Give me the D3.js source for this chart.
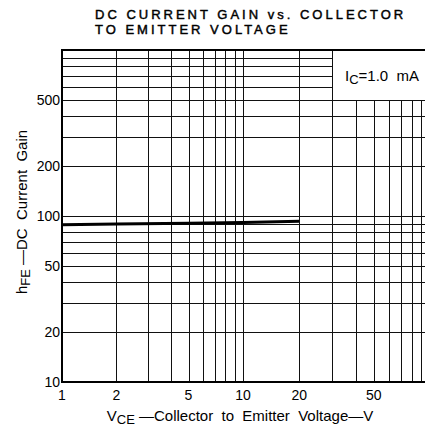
<!DOCTYPE html>
<html lang="en">
<head>
  <meta charset="UTF-8">
  <script src="https://d3js.org/d3.v7.min.js"></script>
  <title>DC Current Gain vs. Collector to Emitter Voltage</title>
  <style>
    body { margin: 0; background: white; }
    svg { display: block; font-family: "Liberation Sans", Arial, sans-serif; }
    .title { font-size: 13px; letter-spacing: 3px; stroke: black; stroke-width: 0.45px; }
    .tick-label { font-size: 14px; }
    .axis-label { font-size: 15px; white-space: pre; }
    .grid line { stroke: #111; stroke-width: 1; shape-rendering: crispEdges; }
  </style>
</head>
<body>
<div id="chart"></div>
<script>
  // data
  const vce = [1, 2, 5, 10, 20];
  const hfe = [88.5, 89.5, 90.5, 91.5, 93];

  const xTicks = [1, 2, 5, 10, 20, 50];
  const yTicks = [10, 20, 50, 100, 200, 500];
  const xGrid = [1, 2, 3, 4, 5, 6, 7, 8, 9, 10, 20, 30, 40, 50, 60, 70, 80, 90];
  const yGrid = [10, 20, 30, 40, 50, 60, 70, 80, 90, 100, 200, 300, 400, 500, 600, 700, 800, 900, 1000];

  const width = 425, height = 434;

  const svg = d3.select("#chart")
    .append("svg")
    .attr("width", width)
    .attr("height", height);

  const x = d3.scaleLog().domain([1, 10, 100]).range([62, 243, 430]);
  const y = d3.scaleLog().domain([10, 1000]).range([382, 50]);

  const px = v => Math.round(x(v)) + 0.5;
  const py = v => Math.round(y(v)) + 0.5;

  const grid = svg.append("g").attr("class", "grid");

  grid.selectAll(".v")
    .data(xGrid)
    .enter().append("line")
    .attr("x1", px).attr("x2", px)
    .attr("y1", y(1000)).attr("y2", y(10));

  grid.selectAll(".h")
    .data(yGrid)
    .enter().append("line")
    .attr("x1", x(1)).attr("x2", width)
    .attr("y1", py).attr("y2", py);

  // legend box covers the grid in the top right corner
  svg.append("rect")
    .attr("x", px(30) + 0.5)
    .attr("y", y(1000) + 1)
    .attr("width", width - px(30))
    .attr("height", py(500) - y(1000) - 1.5)
    .attr("fill", "white");

  const legend = svg.append("text")
    .attr("class", "axis-label")
    .attr("x", 345)
    .attr("y", 81);
  legend.append("tspan").text("I");
  legend.append("tspan").attr("dy", 3).attr("font-size", 13).text("C");
  legend.append("tspan").attr("dy", -3).text("=1.0  mA");

  // frame: heavy top, left and bottom edges
  svg.append("line")
    .attr("x1", x(1)).attr("x2", width)
    .attr("y1", y(1000)).attr("y2", y(1000))
    .attr("stroke", "black").attr("stroke-width", 2);
  svg.append("line")
    .attr("x1", x(1)).attr("x2", width)
    .attr("y1", y(10)).attr("y2", y(10))
    .attr("stroke", "black").attr("stroke-width", 2);
  svg.append("line")
    .attr("x1", x(1)).attr("x2", x(1))
    .attr("y1", y(1000) - 1).attr("y2", y(10) + 1)
    .attr("stroke", "black").attr("stroke-width", 2);

  // curve
  const line = d3.line()
    .x((d, i) => x(vce[i]))
    .y(d => y(d));

  svg.append("path")
    .datum(hfe)
    .attr("d", line)
    .attr("fill", "none")
    .attr("stroke", "black")
    .attr("stroke-width", 3);

  // tick labels
  svg.selectAll(".xt")
    .data(xTicks)
    .enter().append("text")
    .attr("class", "tick-label")
    .attr("x", d => x(d))
    .attr("y", 400)
    .attr("text-anchor", "middle")
    .text(d => d);

  svg.selectAll(".yt")
    .data(yTicks)
    .enter().append("text")
    .attr("class", "tick-label")
    .attr("x", 60)
    .attr("y", d => y(d) + 5)
    .attr("text-anchor", "end")
    .text(d => d);

  // axis titles
  const xl = svg.append("text")
    .attr("class", "axis-label")
    .attr("x", 240)
    .attr("y", 421)
    .attr("text-anchor", "middle");
  xl.append("tspan").text("V");
  xl.append("tspan").attr("dy", 3).attr("font-size", 13).text("CE");
  xl.append("tspan").attr("dy", -3).text(" \u2014Collector  to  Emitter  Voltage\u2014V");

  const yl = svg.append("text")
    .attr("class", "axis-label")
    .attr("transform", "translate(27,212) rotate(-90)")
    .attr("text-anchor", "middle");
  yl.append("tspan").text("h");
  yl.append("tspan").attr("dy", 3).attr("font-size", 13).text("FE");
  yl.append("tspan").attr("dy", -3).text(" \u2014DC  Current  Gain");

  // title
  const title = svg.append("g").attr("class", "title");
  title.append("text").attr("x", 95).attr("y", 19).text("DC CURRENT GAIN vs. COLLECTOR");
  title.append("text").attr("x", 95).attr("y", 34).text("TO EMITTER VOLTAGE");
</script>
</body>
</html>
